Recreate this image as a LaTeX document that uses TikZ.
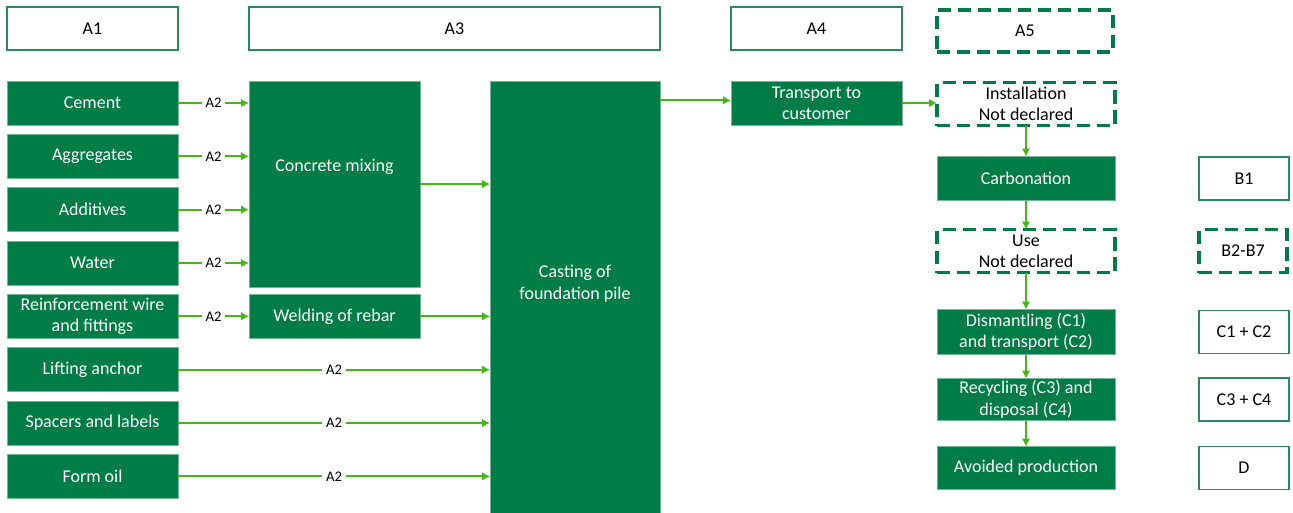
\documentclass[tikz,border=0pt]{standalone}
\usepackage{fontspec}
\setmainfont{Carlito}
\usepackage{tikz}
\usetikzlibrary{arrows.meta,shapes,positioning}
\usepackage{xcolor}
\definecolor{epdgreen}{RGB}{0,125,70}
\definecolor{epdedge}{RGB}{40,140,90}
\definecolor{epdlime}{RGB}{66,184,20}
\tikzstyle{phase} = [rectangle, minimum width=128.25pt, minimum height=32.25pt, outer sep=0pt, text centered, draw=epdedge, fill=white, line width=0.9pt]
\tikzstyle{undeclared} = [rectangle, minimum width=133.5pt, minimum height=32.25pt, outer sep=0pt, inner sep=0pt, align=center, draw=epdgreen, line width=2.3pt, dash pattern=on 10pt off 5pt]
\tikzstyle{process} = [rectangle, minimum width=128.25pt, minimum height=33pt, outer sep=0pt, inner sep=0pt, align=center, text=white, draw=epdgreen!55!white, fill=epdgreen, line width=0.5pt]
\tikzstyle{arrow} = [line width=1.4pt,->,>={Latex[length=6pt,width=6.5pt]},color=epdlime]
\tikzstyle{flowlabel} = [fill=white, text=black, inner xsep=3pt, inner ysep=1pt, font=\fontsize{11}{12}\selectfont]

\begin{document}
\begin{tikzpicture}[x=0.75pt, y=-0.75pt, node distance=7pt, font=\fontsize{13.5}{16}\selectfont]
\useasboundingbox (0,0) rectangle (1293,512);
% Module headers
\node (hdA1) [phase] at (92.5,28.5) {A1};
\node (hdA3) [phase, minimum width=308.25pt] at (454.5,28.5) {A3};
\node (hdA4) [phase] at (816.5,28.5) {A4};
\node (hdA5) [undeclared, minimum width=132pt, minimum height=31.5pt] at (1025,31) {A5};

% Raw materials (A1)
\node (cement) [process, anchor=north west] at (7,81) {Cement};
\node (aggregates) [process, below=of cement] {Aggregates};
\node (additives) [process, below=of aggregates] {Additives};
\node (water) [process, below=of additives] {Water};
\node (reinforce) [process, below=of water] {Reinforcement wire\\and fittings};
\node (lifting) [process, below=of reinforce] {Lifting anchor};
\node (spacers) [process, below=of lifting] {Spacers and labels};
\node (formoil) [process, below=of spacers] {Form oil};

% Production (A3)
\node (mixing) [process, minimum height=154.5pt, right=53.25pt of cement.north east, anchor=north west] {Concrete mixing\\[12pt]};
\node (welding) [process, right=53.25pt of reinforce] {Welding of rebar};
\node (casting) [process, minimum width=127.5pt, minimum height=324pt, right=52.5pt of mixing.north east, anchor=north west] {Casting of\\foundation pile\\[6pt]};

% Transport and installation (A4, A5)
\node (transport) [process, right=53.25pt of casting.north east, anchor=north west] {Transport to\\customer};
\node (installation) [undeclared, right=26.25pt of transport, yshift=-0.75pt] {Installation\\Not declared};

% Use and end of life
\node (carbonation) [process, minimum width=133.5pt, below=23.25pt of installation] {Carbonation};
\node (use) [undeclared, below=21.75pt of carbonation] {Use\\Not declared};
\node (dismantle) [process, minimum width=133.5pt, minimum height=33.75pt, below=27.75pt of use] {Dismantling (C1)\\and transport (C2)};
\node (recycle) [process, minimum width=133.5pt, minimum height=31.5pt, below=18pt of dismantle] {Recycling (C3) and\\disposal (C4)};
\node (avoided) [process, minimum width=133.5pt, minimum height=32.25pt, below=19.5pt of recycle] {Avoided production};

% Module labels
\node (hdB1) [phase, minimum width=67.5pt, right=63pt of carbonation] {B1};
\node (hdB2) [undeclared, minimum width=66pt, right=63pt of use] {B2-B7};
\node (hdC12) [phase, minimum width=67.5pt, right=63pt of dismantle] {C1 + C2};
\node (hdC34) [phase, minimum width=67.5pt, right=63pt of recycle] {C3 + C4};
\node (hdD) [phase, minimum width=67.5pt, right=63pt of avoided] {D};

% Arrows
\draw[arrow] (cement) -- node[flowlabel] {A2} (cement -| mixing.west);
\draw[arrow] (aggregates) -- node[flowlabel] {A2} (aggregates -| mixing.west);
\draw[arrow] (additives) -- node[flowlabel] {A2} (additives -| mixing.west);
\draw[arrow] (water) -- node[flowlabel] {A2} (water -| mixing.west);
\draw[arrow] (reinforce) -- node[flowlabel] {A2} (welding);
\draw[arrow] (lifting) -- node[flowlabel] {A2} (lifting -| casting.west);
\draw[arrow] (spacers) -- node[flowlabel] {A2} (spacers -| casting.west);
\draw[arrow] (formoil) -- node[flowlabel] {A2} (formoil -| casting.west);
\draw[arrow] (mixing) -- (mixing -| casting.west);
\draw[arrow] (welding) -- (welding -| casting.west);
\draw[arrow] ([yshift=2pt]casting.east |- transport) -- ([yshift=2pt]transport.west);
\draw[arrow] (transport) -- (transport -| installation.west);
\draw[arrow] (installation) -- (carbonation);
\draw[arrow] (carbonation) -- (use);
\draw[arrow] (use) -- (dismantle);
\draw[arrow] (dismantle) -- (recycle);
\draw[arrow] (recycle) -- (avoided);
\end{tikzpicture}
\end{document}
